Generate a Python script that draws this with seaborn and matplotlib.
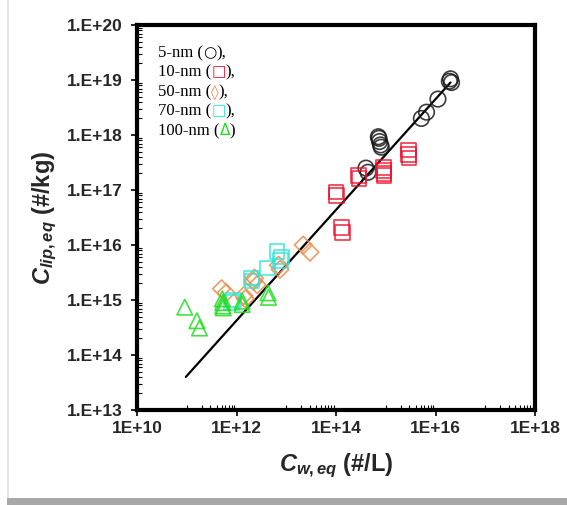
import numpy as np
import pandas as pd
import matplotlib
matplotlib.use("Agg")
import matplotlib.pyplot as plt
import seaborn as sns
from matplotlib.ticker import LogLocator, FixedLocator, FuncFormatter, NullFormatter
from matplotlib.offsetbox import TextArea, HPacker, VPacker, AnchoredOffsetbox
from matplotlib.patches import Rectangle

# ---------------- data ----------------
nm5_x = [2.0e16, 1.9e16, 2.1e16, 1.12e16, 6.6e15, 5.2e15, 7.1e14, 7.3e14, 7.5e14, 7.9e14, 8.1e14, 4.0e14, 4.4e14]
nm5_y = [1.05e19, 9.5e18, 9.0e18, 4.5e18, 2.6e18, 2.0e18, 9.3e17, 8.7e17, 7.6e17, 6.6e17, 6.0e17, 2.5e17, 2.1e17]

nm10_x = [1.0e14, 1.02e14, 2.8e14, 2.9e14, 9.1e14, 9.1e14, 9.2e14, 9.3e14, 2.9e15, 2.9e15, 2.95e15, 1.3e14, 1.35e14]
nm10_y = [9.2e16, 8.0e16, 1.85e17, 1.6e17, 2.55e17, 2.25e17, 2.0e17, 1.85e17, 5.3e17, 4.4e17, 3.8e17, 2.1e16, 1.7e16]

nm50_x = [2.2e13, 3.0e13, 7.0e12, 7.5e12, 2.3e12, 2.6e12, 2.2e12, 5.0e11, 6.2e11, 1.4e12, 1.5e12]
nm50_y = [1.0e16, 7.4e15, 4.3e15, 3.6e15, 2.5e15, 1.9e15, 2.2e15, 1.6e15, 1.35e15, 1.2e15, 1.05e15]

nm70_x = [6.5e12, 8.1e12, 7.6e12, 4.2e12, 2.0e12, 2.05e12, 8.7e11, 8.0e11]
nm70_y = [7.6e15, 6.0e15, 5.2e15, 3.8e15, 2.5e15, 2.2e15, 1.0e15, 9.0e14]

nm100_x = [9.1e10, 1.6e11, 1.8e11, 5.2e11, 5.3e11, 5.3e11, 5.4e11, 1.3e12, 1.3e12, 4.3e12, 4.4e12]
nm100_y = [7.4e14, 4.2e14, 3.1e14, 1.05e15, 9.0e14, 7.8e14, 7.2e14, 9.5e14, 8.3e14, 1.35e15, 1.12e15]

fit_x = [9.6e10, 2.0e16]
fit_y = [4.0e13, 9.0e18]

x_ticks = [1e10, 1e12, 1e14, 1e16, 1e18]
x_tick_labels = ["1E+10", "1E+12", "1E+14", "1E+16", "1E+18"]
y_ticks = [1e13, 1e14, 1e15, 1e16, 1e17, 1e18, 1e19, 1e20]
y_tick_labels = ["1.E+13", "1.E+14", "1.E+15", "1.E+16", "1.E+17", "1.E+18", "1.E+19", "1.E+20"]

series_names = ["5-nm", "10-nm", "50-nm", "70-nm", "100-nm"]
series_symbols = ["\u25CB", "\u25A1", "\u25CA", "\u25A1", "\u0394"]

# ---------------- styling ----------------
sns.set_theme(style="white")
plt.rcParams["font.family"] = ["Liberation Sans", "DejaVu Sans"]
plt.rcParams["mathtext.fontset"] = "custom"
plt.rcParams["mathtext.it"] = "Liberation Sans:italic:bold"
plt.rcParams["mathtext.rm"] = "Liberation Sans:bold"
plt.rcParams["mathtext.bf"] = "Liberation Sans:bold"

colors = {
    "5-nm": "#1a1a1a",
    "10-nm": "#f2102a",
    "50-nm": "#ee8a48",
    "70-nm": "#2ee6d6",
    "100-nm": "#22dd22",
}
markers = {"5-nm": "o", "10-nm": "s", "50-nm": "D", "70-nm": "s", "100-nm": "^"}
sizes = {"5-nm": 125, "10-nm": 110, "50-nm": 80, "70-nm": 110, "100-nm": 125}

frames = []
for name, xs, ys in zip(series_names,
                        [nm5_x, nm10_x, nm50_x, nm70_x, nm100_x],
                        [nm5_y, nm10_y, nm50_y, nm70_y, nm100_y]):
    frames.append(pd.DataFrame({"x": xs, "y": ys, "size": name}))
df = pd.concat(frames, ignore_index=True)

fig = plt.figure(figsize=(5.67, 5.05), dpi=100)
fig.patch.set_facecolor("white")
ax = fig.add_axes([137 / 567, (505 - 410) / 505, 398 / 567, 385 / 505])
ax.set_xscale("log")
ax.set_yscale("log")

sns.lineplot(x=fit_x, y=fit_y, ax=ax, color="black", linewidth=1.6, zorder=3)

for name in series_names:
    sub = df[df["size"] == name]
    sns.scatterplot(data=sub, x="x", y="y", ax=ax, marker=markers[name],
                    s=sizes[name], facecolors="none", edgecolor=colors[name],
                    linewidth=1.2, alpha=0.85, zorder=4, legend=False)

ax.set_xlim(1e10, 1e18)
ax.set_ylim(1e13, 1e20)

ax.xaxis.set_major_locator(FixedLocator(x_ticks))
ax.xaxis.set_major_formatter(FuncFormatter(lambda v, p: x_tick_labels[x_ticks.index(v)] if v in x_ticks else ""))
ax.xaxis.set_minor_locator(FixedLocator([k * 10.0 ** e for e in (11, 13, 15, 17) for k in range(1, 10)]))
ax.xaxis.set_minor_formatter(NullFormatter())
ax.yaxis.set_major_locator(FixedLocator(y_ticks))
ax.yaxis.set_major_formatter(FuncFormatter(lambda v, p: y_tick_labels[y_ticks.index(v)] if v in y_ticks else ""))
ax.yaxis.set_minor_locator(LogLocator(base=10, subs=np.arange(2, 10), numticks=30))
ax.yaxis.set_minor_formatter(NullFormatter())

for sp in ax.spines.values():
    sp.set_linewidth(3.0)
    sp.set_color("black")

ax.tick_params(axis="both", which="major", direction="out", length=4, width=1.2,
               color="black", labelsize=12.5)
ax.tick_params(axis="y", which="major", pad=6)
ax.tick_params(axis="x", which="major", pad=4)
ax.tick_params(axis="both", which="minor", direction="in", length=3.5, width=0.8, color="black")
ax.tick_params(bottom=True, left=True, top=False, right=False, which="both")
for lab in ax.get_xticklabels() + ax.get_yticklabels():
    lab.set_fontweight("bold")

ax.set_xlabel(r"$C_{w,eq}$ (#/L)", fontsize=17, fontweight="bold", labelpad=11)
ax.set_ylabel(r"$C_{lip,eq}$ (#/kg)", fontsize=17, fontweight="bold", labelpad=6)
ax.grid(False)

# legend-like text block with coloured symbols
rows = []
for i, (name, sym) in enumerate(zip(series_names, series_symbols)):
    tail = ")," if i < len(series_names) - 1 else ")"
    tp = dict(fontsize=12, family=["Liberation Serif", "DejaVu Serif"])
    parts = [TextArea(name + " (", textprops=dict(color="black", **tp)),
             TextArea(sym, textprops=dict(color=colors[name] if name != "5-nm" else "black",
                                          **dict(tp, family=["DejaVu Sans"], fontsize=11))),
             TextArea(tail, textprops=dict(color="black", **tp))]
    rows.append(HPacker(children=parts, align="baseline", pad=0, sep=0))
box = VPacker(children=rows, align="left", pad=0, sep=2.5)
anch = AnchoredOffsetbox(loc="upper left", child=box, pad=0, frameon=False,
                         bbox_to_anchor=(158 / 567, 1 - 45 / 505),
                         bbox_transform=fig.transFigure, borderpad=0)
ax.add_artist(anch)

# screenshot-like frame
fig.patches.append(Rectangle((7 / 567, 0), 2 / 567, 1, transform=fig.transFigure,
                             facecolor="#e6e6e6", edgecolor="none", zorder=0))
fig.patches.append(Rectangle((7 / 567, 0), 1, 7 / 505, transform=fig.transFigure,
                             facecolor="#a8a8a8", edgecolor="none", zorder=0))

fig.savefig("out.png", dpi=100)
